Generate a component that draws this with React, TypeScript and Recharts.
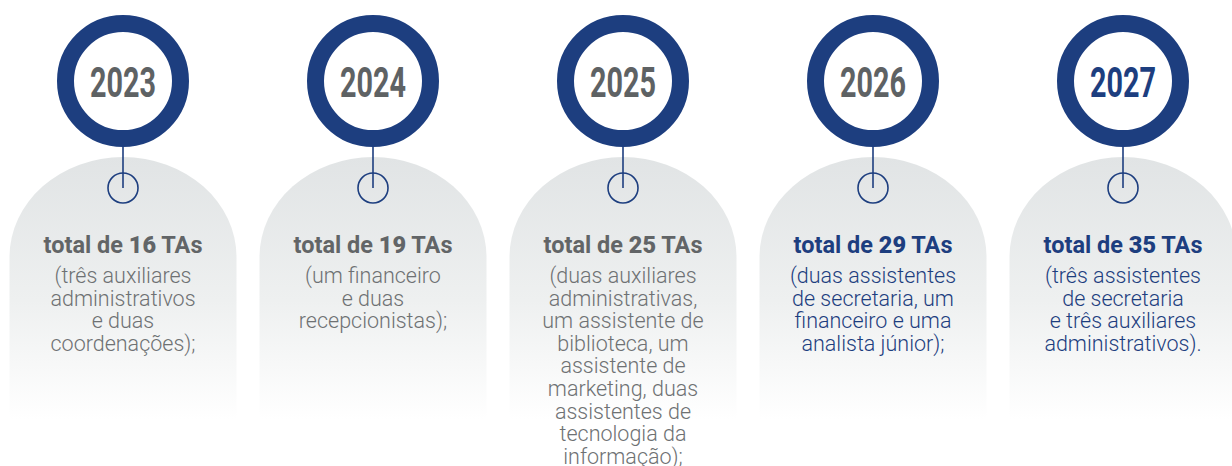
import { Scatter, ScatterChart, XAxis, YAxis } from "recharts";

const years = ["2023", "2024", "2025", "2026", "2027"];
const totals = [16, 19, 25, 29, 35];
const details = [
  ["(três auxiliares", "administrativos", "e duas", "coordenações);"],
  ["(um financeiro", "e duas", "recepcionistas);"],
  [
    "(duas auxiliares",
    "administrativas,",
    "um assistente de",
    "biblioteca, um",
    "assistente de",
    "marketing, duas",
    "assistentes de",
    "tecnologia da",
    "informação);",
  ],
  ["(duas assistentes", "de secretaria, um", "financeiro e uma", "analista júnior);"],
  ["(três assistentes", "de secretaria", "e três auxiliares", "administrativos)."],
];
const yearInBlue = [false, false, false, false, true];
const textInBlue = [false, false, false, true, true];

const NAVY = "#1d3e7f";
const GREY_YEAR = "#5e6264";
const GREY_BOLD = "#626567";
const GREY_TEXT = "#6e7173";

type Card = {
  idx: number;
  row: number;
  year: string;
  total: number;
  lines: string[];
  blueYear: boolean;
  blueText: boolean;
};

const data: Card[] = years.map((year, i) => ({
  idx: i,
  row: 0,
  year,
  total: totals[i],
  lines: details[i],
  blueYear: yearInBlue[i],
  blueText: textInBlue[i],
}));

if (typeof document !== "undefined") {
  document.body.style.margin = "0";
}

function CardShape(props: any) {
  const { cx, cy, payload } = props;
  const p = payload as Card;
  const gid = `arch-${p.idx}`;
  const left = cx - 113.5;
  const right = cx + 113.5;
  const top = cy + 76;
  const bottom = cy + 362;
  const ry = 100;
  const arch = `M ${left} ${bottom} L ${left} ${top + ry} A 113.5 ${ry} 0 0 1 ${right} ${top + ry} L ${right} ${bottom} Z`;
  const textColor = p.blueText ? NAVY : GREY_TEXT;
  const boldColor = p.blueText ? NAVY : GREY_BOLD;
  return (
    <g>
      <defs>
        <linearGradient id={gid} x1="0" y1="0" x2="0" y2="1">
          <stop offset="0%" stopColor="#e1e4e5" />
          <stop offset="50%" stopColor="#eef0f0" />
          <stop offset="92%" stopColor="#ffffff" />
        </linearGradient>
      </defs>
      <path d={arch} fill={`url(#${gid})`} />
      <line x1={cx} y1={cy + 66} x2={cx} y2={cy + 107} stroke={NAVY} strokeWidth={1.6} />
      <circle cx={cx} cy={cy + 107} r={15} fill="none" stroke={NAVY} strokeWidth={1.6} />
      <circle cx={cx} cy={cy} r={57.5} fill="#ffffff" stroke={NAVY} strokeWidth={17} />
      <text
        x={cx}
        y={cy + 16}
        textAnchor="middle"
        fontFamily="Roboto"
        fontWeight={700}
        fontSize={43}
        fill={p.blueYear ? NAVY : GREY_YEAR}
        textLength={66}
        lengthAdjust="spacingAndGlyphs"
      >
        {p.year}
      </text>
      <text
        x={cx}
        y={cy + 172}
        textAnchor="middle"
        fontFamily="Roboto"
        fontSize={23.5}
        fill={boldColor}
      >
        <tspan fontWeight={700}>total de </tspan>
        <tspan fontWeight={900}>{p.total}</tspan>
        <tspan fontWeight={700}> TAs</tspan>
      </text>
      {p.lines.map((line, k) => (
        <text
          key={k}
          x={cx}
          y={cy + 202 + k * 22.6}
          textAnchor="middle"
          fontFamily="Roboto"
          fontWeight={300}
          fontSize={21.5}
          fill={textColor}
        >
          {line}
        </text>
      ))}
    </g>
  );
}

export default function App() {
  return (
    <div style={{ width: 1232, height: 466, background: "#ffffff" }}>
      <ScatterChart width={1232} height={466} margin={{ top: 0, right: 0, bottom: 0, left: 0 }}>
        <XAxis type="number" dataKey="idx" domain={[-0.492, 4.436]} hide />
        <YAxis type="number" dataKey="row" domain={[-4.75, 1]} hide />
        <Scatter data={data} shape={CardShape} isAnimationActive={false} />
      </ScatterChart>
    </div>
  );
}
